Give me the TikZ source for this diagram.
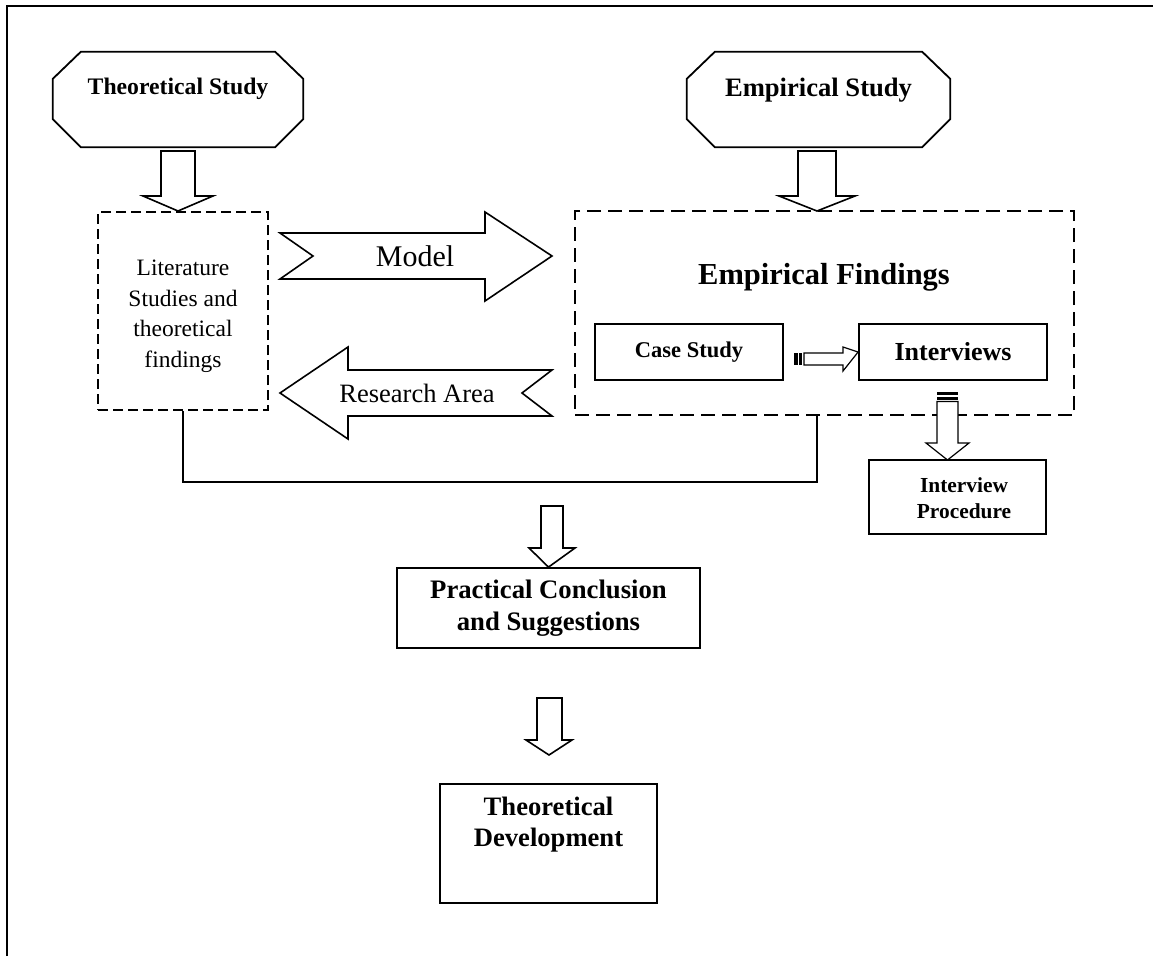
\documentclass[tikz,border=0pt]{standalone}
\usepackage{fontspec}
\setmainfont{Liberation Serif}
\usetikzlibrary{calc}
\begin{document}
\begin{tikzpicture}[x=1pt,y=-1pt,
  box/.style={draw,line width=1.8pt,inner sep=0pt},
  dbox/.style={draw,line width=1.8pt,inner sep=0pt,dash pattern=on 10pt off 5pt},
  wbox/.style={draw,line width=1.8pt,inner sep=0pt,dash pattern=on 14pt off 7pt},
  fat/.style={draw,line width=1.6pt,fill=white,line join=miter},
  stripe/.style={fill=black},
  link/.style={draw,line width=1.4pt},
  ghost/.style={inner sep=0pt}]
\useasboundingbox (0,0) rectangle (1153,956);

% page frame (open to the right and bottom)
\draw[line width=2.5pt] (7,956) -- (7,6) -- (1153,6);

% ---- top octagons
\node[ghost,minimum width=250pt,minimum height=95pt] (theo) at (178,99.5) {};
\draw[box] ($(theo.north west)+(28,0)$) -- ($(theo.north east)+(-28,0)$)
  -- ($(theo.north east)+(0,27)$) -- ($(theo.south east)+(0,-28)$)
  -- ($(theo.south east)+(-28,0)$) -- ($(theo.south west)+(28,0)$)
  -- ($(theo.south west)+(0,-28)$) -- ($(theo.north west)+(0,27)$) -- cycle;
\node[font=\bfseries\fontsize{23.7}{28}\selectfont] (theolab) at ($(theo.center)+(0,-11)$) {Theoretical Study};

\node[ghost,minimum width=263pt,minimum height=95pt] (emp) at (818.5,99.5) {};
\draw[box] ($(emp.north west)+(28,0)$) -- ($(emp.north east)+(-28,0)$)
  -- ($(emp.north east)+(0,27)$) -- ($(emp.south east)+(0,-28)$)
  -- ($(emp.south east)+(-28,0)$) -- ($(emp.south west)+(28,0)$)
  -- ($(emp.south west)+(0,-28)$) -- ($(emp.north west)+(0,27)$) -- cycle;
\node[font=\bfseries\fontsize{26.6}{30}\selectfont] (emplab) at ($(emp.center)+(0,-9.5)$) {Empirical Study};

% ---- middle boxes
\node[dbox,minimum width=170pt,minimum height=198pt] (lit) at (183,311) {};
\node[align=center,font=\fontsize{23.5}{30.5}\selectfont] (litlab) at (183,316)
  {Literature\\Studies and\\theoretical\\findings};

\node[wbox,minimum width=499pt,minimum height=204pt] (empf) at (824.5,313) {};
\node[font=\bfseries\fontsize{30.5}{34}\selectfont] (empflab) at (824,277) {Empirical Findings};

\node[box,minimum width=188pt,minimum height=56pt,font=\bfseries\fontsize{22.5}{26}\selectfont]
  (case) at (689,352) {Case Study};
\node[box,minimum width=188pt,minimum height=56pt,font=\bfseries\fontsize{26}{30}\selectfont]
  (intv) at (953,352) {Interviews};

\node[box,minimum width=177pt,minimum height=74pt] (proc) at (957.5,497) {};
\node[align=center,font=\bfseries\fontsize{21.4}{26}\selectfont] (proclab) at (964,498)
  {Interview\\Procedure};

\node[box,minimum width=303pt,minimum height=80pt,align=center,
      font=\bfseries\fontsize{26.7}{32}\selectfont] (prac) at (548.5,608)
  {Practical Conclusion\\and Suggestions};

\node[box,minimum width=217pt,minimum height=119pt] (td) at (548.5,843.5) {};
\node[align=center,font=\bfseries\fontsize{26.6}{31}\selectfont] (tdlab) at ($(td.center)+(0,-19)$)
  {Theoretical\\Development};

% ---- block arrows
% Theoretical Study -> literature
\draw[fat] (161,151) -- (195,151) -- (195,196) -- (213,196) -- (178,211)
  -- (143,196) -- (161,196) -- cycle;
% Empirical Study -> findings
\coordinate (ea) at (817,211);
\draw[fat] (798,151) -- (836,151) -- (836,196) -- (855,196) -- (ea)
  -- (779,196) -- (798,196) -- cycle;

% Model (notched, pointing right)
\draw[fat] (280,233) -- (485,233) -- (485,212) -- (552,256) -- (485,301)
  -- (485,279) -- (280,279) -- (313,256) -- cycle;
\node[font=\fontsize{30}{34}\selectfont] (model) at (415,256) {Model};

% Research Area (notched, pointing left)
\draw[fat] (280,393) -- (348,347) -- (348,370) -- (552,370) -- (522,393)
  -- (552,416) -- (348,416) -- (348,439) -- cycle;
\node[font=\fontsize{26.5}{30}\selectfont] (area) at (417,393) {Research Area};

% striped arrow Case Study -> Interviews
\fill[stripe] (794,353) rectangle (797.5,365);
\fill[stripe] (799,353) rectangle (801.5,365);
\draw[fat,line width=1.2pt] (804,353) -- (843,353) -- (843,347) -- (intv.west)
  -- (843,371) -- (843,365) -- (804,365) -- cycle;

% striped arrow Interviews -> Interview Procedure
\fill[stripe] (937,391.5) rectangle (958,395);
\fill[stripe] (937,396.5) rectangle (958,399.5);
\draw[fat,line width=1.2pt] (937,401.5) -- (958,401.5) -- (958,443) -- (969,443)
  -- (947.5,460) -- (926,443) -- (937,443) -- cycle;

% joining line from both studies
\draw[link] (lit.south) |- (ea |- 0,482) -- (ea |- empf.south);

% -> Practical Conclusion
\draw[fat] (541,506) -- (563,506) -- (563,548) -- (575,548) -- (prac.north)
  -- (529,548) -- (541,548) -- cycle;

% -> Theoretical Development
\draw[fat] (537,698) -- (562,698) -- (562,740) -- (572,740) -- (549,755)
  -- (526,740) -- (537,740) -- cycle;
\end{tikzpicture}
\end{document}
